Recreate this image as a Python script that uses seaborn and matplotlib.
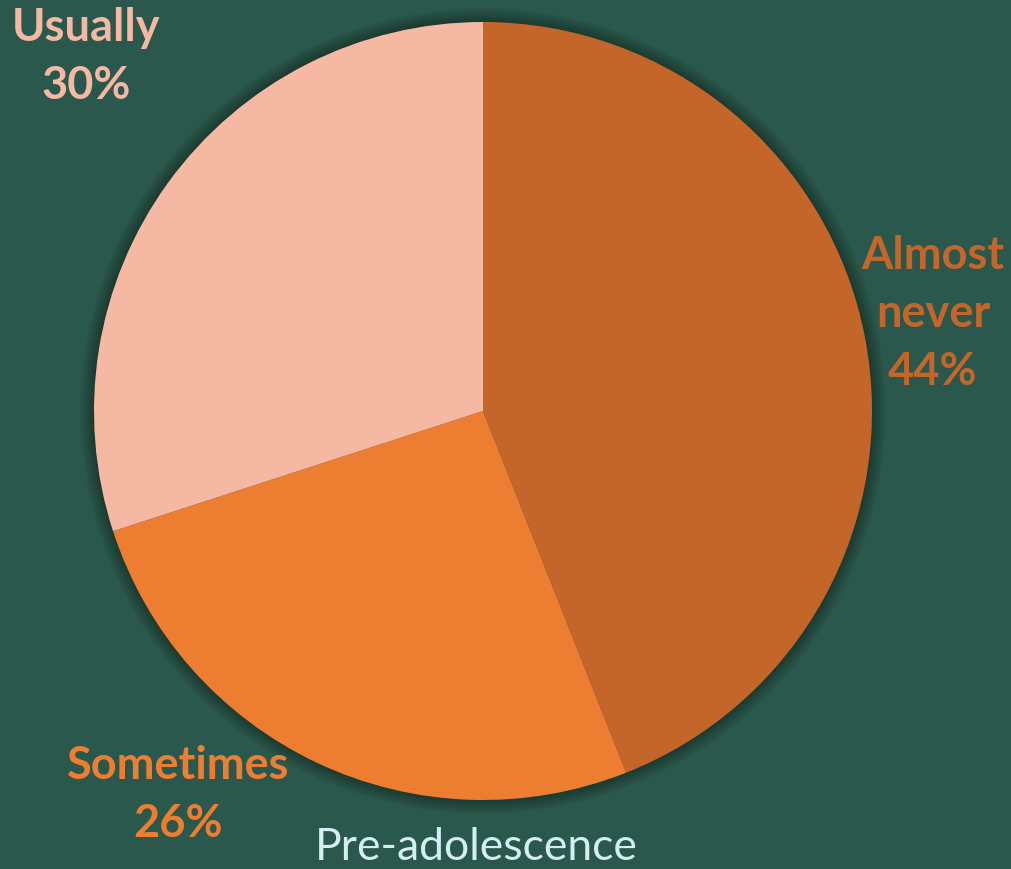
import matplotlib
matplotlib.use("Agg")
import matplotlib.pyplot as plt
from matplotlib.patches import Circle
import seaborn as sns

# Share of responses, pre-adolescence
categories = ["Almost never", "Sometimes", "Usually"]
shares = [44, 26, 30]
slice_colors = ["#C4662A", "#ED7D31", "#F4B8A3"]
title = "Pre-adolescence"

sns.set_theme(style="white")
plt.rcParams["font.family"] = ["Lato", "DejaVu Sans"]

bg = "#2B584C"
W, H = 1012, 869
fig = plt.figure(figsize=(W / 100, H / 100), dpi=100, facecolor=bg)
ax = fig.add_axes([0, 0, 1, 1])
ax.set_facecolor(bg)

cx, cy, r = 483, H - 411, 389

# soft glow under the pie edge
for i in range(14):
    ax.add_patch(Circle((cx, cy), r + 14 - i, color="#000000", alpha=0.025, lw=0, zorder=0))

wedges, _ = ax.pie(
    shares,
    colors=slice_colors,
    startangle=90,
    counterclock=False,
    center=(cx, cy),
    radius=r,
    wedgeprops=dict(linewidth=0),
)
for w in wedges:
    w.set_zorder(2)

# label positions (pixels from top-left) for each slice
label_pos = {
    "Almost never": (933, 314),
    "Sometimes": (178, 795),
    "Usually": (86, 57),
}
label_lines = {
    "Almost never": "Almost\nnever",
    "Sometimes": "Sometimes",
    "Usually": "Usually",
}
for cat, val, col in zip(categories, shares, slice_colors):
    x, y = label_pos[cat]
    ax.text(x, H - y, f"{label_lines[cat]}\n{val}%", color=col, fontsize=32.5,
            fontweight="bold", ha="center", va="center", linespacing=1.48, zorder=3)

ax.text(476, H - 847, title, color="#D4EEF4", fontsize=32, ha="center",
        va="center", zorder=3)

ax.set_xlim(0, W)
ax.set_ylim(0, H)
ax.set_aspect("equal")
ax.axis("off")

fig.savefig("out.png", dpi=100, facecolor=bg)
